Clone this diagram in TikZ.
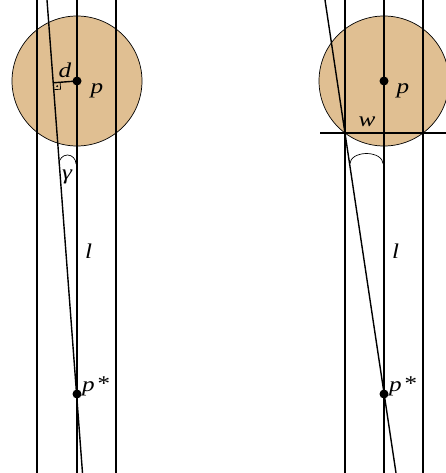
\documentclass[tikz,border=0pt]{standalone}
\usepackage{fontspec}
\setmainfont{Liberation Serif}
\newfontfamily\labfont[FakeStretch=1.2]{Liberation Serif}
\begin{document}
\begin{tikzpicture}[x=1pt,y=-1pt,
  ln/.style={line width=1.4pt},
  thinln/.style={line width=0.7pt},
  disc/.style={fill=black,circle,inner sep=0pt,minimum size=9pt},
  lab/.style={inner sep=0pt,font=\labfont\fontsize{21}{24}\selectfont\itshape}]
\useasboundingbox (0,0) rectangle (446,473);
\definecolor{tan}{RGB}{224,191,146}
% ---------- left figure ----------
\coordinate (P) at (77,81);
\filldraw[fill=tan,draw=black,thinln] (P) circle (65);
\coordinate (La1) at (37,0); \coordinate (La2) at (37,473);
\coordinate (Lb1) at (77,0); \coordinate (Lb2) at (77,473);
\coordinate (Lc1) at (116,0); \coordinate (Lc2) at (116,473);
\coordinate (S1) at (47,0); \coordinate (S2) at (82.5,473);
\draw[ln] (La1) -- (La2);
\draw[ln] (Lb1) -- (Lb2);
\draw[ln] (Lc1) -- (Lc2);
\draw[ln] (S1) -- (S2);
\coordinate (F) at (53.2,82.8);
\draw[ln] (F) -- (P);
\draw[thinln] (53.7,89.7) -- (60.6,89.2) -- (60.1,82.3);
\fill (57.2,86.2) circle (1.1);
\draw[thinln] (59,164) arc[start angle=180,end angle=360,x radius=8.5,y radius=9];
\node[disc] (pd) at (P) {};
\node[disc] (ps) at (77,394) {};
\node[lab] (d) at (65,70) {d};
\node[lab] (p) at (97,90.5) {p};
\node[lab] (g) at (67,176.5) {γ};
\node[lab] (l) at (88.5,251) {l};
\node[lab,anchor=west] (pst) at (82,386) {p\kern1.5pt\raisebox{1pt}{*}};
% ---------- right figure ----------
\coordinate (Q) at (384,81);
\filldraw[fill=tan,draw=black,thinln] (Q) circle (65);
\coordinate (Ra1) at (345,0); \coordinate (Ra2) at (345,473);
\coordinate (Rb1) at (384,0); \coordinate (Rb2) at (384,473);
\coordinate (Rc1) at (423,0); \coordinate (Rc2) at (423,473);
\coordinate (T1) at (325,0); \coordinate (T2) at (396,473);
\coordinate (H1) at (320,133); \coordinate (H2) at (446,133);
\draw[ln] (Ra1) -- (Ra2);
\draw[ln] (Rb1) -- (Rb2);
\draw[ln] (Rc1) -- (Rc2);
\draw[ln] (T1) -- (T2);
\draw[ln] (H1) -- (H2);
\draw[thinln] (350,163.5) arc[start angle=180,end angle=360,x radius=16.5,y radius=10];
\node[disc] (qd) at (Q) {};
\node[disc] (qs) at (384,394) {};
\node[lab] (w) at (367,121.5) {w};
\node[lab] (q) at (403,90.5) {p};
\node[lab] (l2) at (395.5,251) {l};
\node[lab,anchor=west] (qst) at (389,386) {p\kern1.5pt\raisebox{1pt}{*}};
\end{tikzpicture}
\end{document}
